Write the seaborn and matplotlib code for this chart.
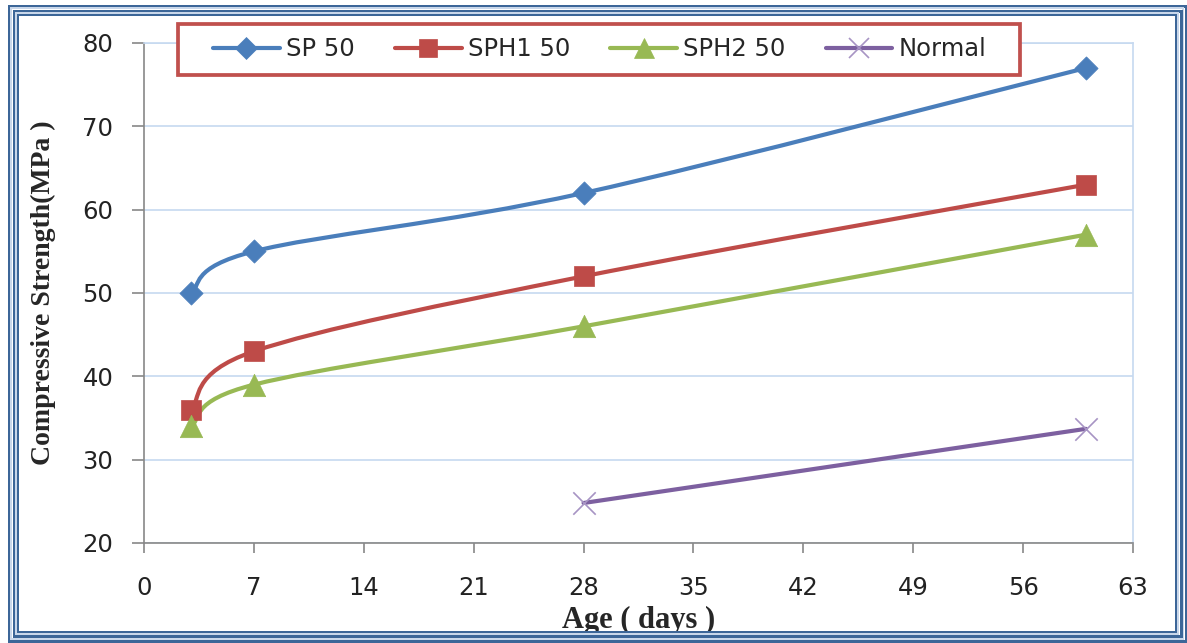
import matplotlib
matplotlib.use("Agg")
import matplotlib.pyplot as plt
import seaborn as sns
import numpy as np
from matplotlib.path import Path
from matplotlib.patches import PathPatch, Rectangle
from matplotlib.lines import Line2D

# ---- data ----
series_names = ["SP 50", "SPH1 50", "SPH2 50", "Normal"]
ages_main = [3, 7, 28, 60]
ages_normal = [28, 60]
sp50 = [50, 55, 62, 77]
sph1_50 = [36, 43, 52, 63]
sph2_50 = [34, 39, 46, 57]
normal = [24.8, 33.7]
x_ticks = [0, 7, 14, 21, 28, 35, 42, 49, 56, 63]
y_ticks = [20, 30, 40, 50, 60, 70, 80]

series = [
    (series_names[0], ages_main, sp50),
    (series_names[1], ages_main, sph1_50),
    (series_names[2], ages_main, sph2_50),
    (series_names[3], ages_normal, normal),
]
colors = {"SP 50": "#4A7EBB", "SPH1 50": "#BE4B48", "SPH2 50": "#98B954", "Normal": "#7D60A0"}
markers = {"SP 50": "D", "SPH1 50": "s", "SPH2 50": "^", "Normal": "x"}
msize = {"SP 50": 140, "SPH1 50": 200, "SPH2 50": 260, "Normal": 260}
mcolor = {"SP 50": "#4A7EBB", "SPH1 50": "#BE4B48", "SPH2 50": "#98B954", "Normal": "#A794C4"}

sns.set_theme(style="white")
plt.rcParams["font.family"] = ["DejaVu Sans"]

fig = plt.figure(figsize=(11.87, 6.43), dpi=100)
ax = fig.add_axes([144/1187, 1-543/643, (1133-144)/1187, (543-43)/643])


def smooth_path(xs, ys):
    pts = np.column_stack([xs, ys]).astype(float)
    n = len(pts)
    verts = [pts[0]]
    codes = [Path.MOVETO]
    for i in range(n - 1):
        p0 = pts[i - 1] if i > 0 else pts[i]
        p1 = pts[i]
        p2 = pts[i + 1]
        p3 = pts[i + 2] if i + 2 < n else pts[i + 1]
        c1 = p1 + (p2 - p0) / 6.0
        c2 = p2 - (p3 - p1) / 6.0
        verts += [c1, c2, p2]
        codes += [Path.CURVE4] * 3
    return Path(verts, codes)


for name, xs, ys in series:
    patch = PathPatch(smooth_path(xs, ys), facecolor="none", edgecolor=colors[name],
                      lw=3.0, transform=ax.transData, zorder=2, capstyle="round")
    ax.add_patch(patch)
    if markers[name] == "x":
        sns.scatterplot(x=xs, y=ys, marker="x", s=msize[name], color=mcolor[name],
                        linewidth=1.2, ax=ax, zorder=3)
    else:
        sns.scatterplot(x=xs, y=ys, marker=markers[name], s=msize[name], color=mcolor[name],
                        edgecolor=mcolor[name], linewidth=0.5, ax=ax, zorder=3)

ax.set_xlim(0, 63)
ax.set_ylim(20, 80)
ax.set_xticks(x_ticks)
ax.set_yticks(y_ticks)
ax.tick_params(axis="both", labelsize=17.5, labelcolor="#222222", color="#888888",
               width=1.2, direction="out")
ax.tick_params(axis="x", length=7, pad=17)
ax.tick_params(axis="y", length=8.5, pad=13.5)
ax.xaxis.set_ticks_position("bottom")
ax.yaxis.set_ticks_position("left")
ax.grid(axis="y", color="#C6D9F0", lw=1.2)
ax.grid(axis="x", visible=False)
ax.set_axisbelow(True)
for side in ["top", "right"]:
    ax.spines[side].set_color("#C6D9F0")
    ax.spines[side].set_linewidth(1.2)
for side in ["left", "bottom"]:
    ax.spines[side].set_color("#888888")
    ax.spines[side].set_linewidth(1.2)

ax.set_xlabel("Age ( days )", fontsize=22, fontweight="bold", family="Liberation Serif",
              labelpad=4)
ax.set_ylabel("Compressive Strength(MPa )", fontsize=20, fontweight="bold",
              family="Liberation Serif", labelpad=19)

W, H = 1187, 643

# legend box (red frame) drawn as a figure rectangle, legend entries inside it
fig.patches.append(Rectangle((178/W, 1-75/H), (1020-178)/W, (75-24)/H, transform=fig.transFigure,
                             facecolor="white", edgecolor="#C0504D", lw=2.7, zorder=5))
handles = [Line2D([], [], color=colors[n], lw=3.0, marker=markers[n], markersize=
                  {"SP 50": 11, "SPH1 50": 13, "SPH2 50": 14, "Normal": 14}[n],
                  markerfacecolor=mcolor[n], markeredgecolor=mcolor[n],
                  markeredgewidth=1.2 if n == "Normal" else 0.5)
           for n in series_names]
leg = fig.legend(handles, series_names, loc="center left", ncol=4,
                 bbox_to_anchor=(213/W, 1-49.5/H), fontsize=17.5, frameon=False,
                 handlelength=2.75, handletextpad=0.25, borderpad=0, borderaxespad=0,
                 columnspacing=1.65)
leg.set_zorder(10)

# decorative multi-line frame
def frame(d, lw, color):
    x0, y0, x1, y1 = 8.5 + d, 5.5 + d, 1185.5 - d, 641 - d
    fig.patches.append(Rectangle((x0/W, 1-y1/H), (x1-x0)/W, (y1-y0)/H, transform=fig.transFigure,
                                 fill=False, lw=lw * 0.72, edgecolor=color, zorder=20))
frame(0, 3.0, "#3C6698")
frame(2.5, 2.0, "#C9D7EA")
frame(5.0, 3.0, "#3C6698")
frame(7.5, 2.0, "#C9D7EA")
frame(9.5, 2.0, "#3C6698")

fig.savefig("out.png", dpi=100)
